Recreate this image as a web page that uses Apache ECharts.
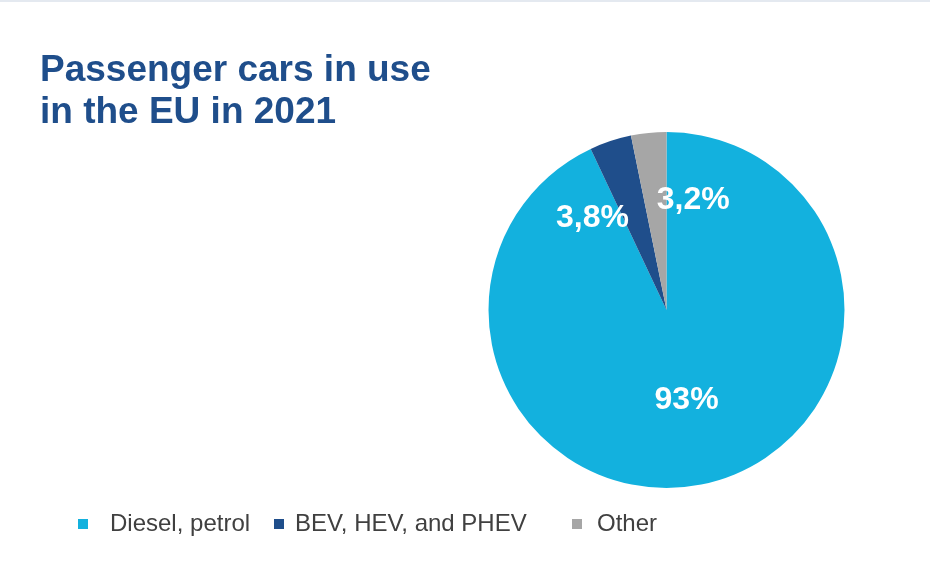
<!DOCTYPE html>
<html>
<head>
<meta charset="utf-8">
<script src="https://cdn.jsdelivr.net/npm/echarts@6/dist/echarts.min.js"></script>
<style>
html,body{margin:0;padding:0;background:#fff;}
#chart{width:930px;height:567px;}
</style>
</head>
<body>
<div id="chart"></div>
<script>
const categories = ['Diesel, petrol', 'BEV, HEV, and PHEV', 'Other'];
const values = [93, 3.8, 3.2];
const labels = ['93%', '3,8%', '3,2%'];
const colors = ['#13b1de', '#1f4e8b', '#a6a6a6'];
const labelOffsets = [[0, 0], [-45, -5], [36, -18]];
const legendLefts = [78, 274, 572];
const legendTextGaps = [17, 6, 10];

const chart = echarts.init(document.getElementById('chart'), null, {renderer: 'canvas'});
const font = '"Liberation Sans", Arial, sans-serif';

const option = {
  backgroundColor: '#ffffff',
  animation: false,
  title: {
    text: 'Passenger cars in use\nin the EU in 2021',
    left: 35,
    top: 45,
    textStyle: {
      fontFamily: font,
      fontSize: 37,
      fontWeight: 'bold',
      color: '#1f4e8b',
      lineHeight: 42
    }
  },
  graphic: [{
    type: 'rect',
    shape: {x: 0, y: 0, width: 930, height: 2},
    style: {fill: '#e4e9f0'},
    silent: true
  }],
  legend: categories.map((c, i) => ({
    data: [c],
    left: legendLefts[i],
    top: 512,
    padding: 0,
    icon: 'rect',
    itemWidth: 10,
    itemHeight: 10,
    textStyle: {
      fontFamily: font,
      fontSize: 24,
      color: '#404040',
      padding: [0, 0, 0, legendTextGaps[i]]
    },
    selectedMode: false
  })),
  series: [{
    type: 'pie',
    center: [666.5, 310],
    radius: [0, 178],
    startAngle: 90,
    clockwise: true,
    silent: true,
    data: categories.map((c, i) => ({
      name: c,
      value: values[i],
      itemStyle: {color: colors[i]},
      label: {
        show: true,
        position: 'inside',
        formatter: labels[i],
        offset: labelOffsets[i],
        color: '#ffffff',
        fontFamily: font,
        fontSize: 32,
        fontWeight: 'bold'
      }
    })),
    labelLine: {show: false}
  }]
};
chart.setOption(option);
</script>
</body>
</html>
